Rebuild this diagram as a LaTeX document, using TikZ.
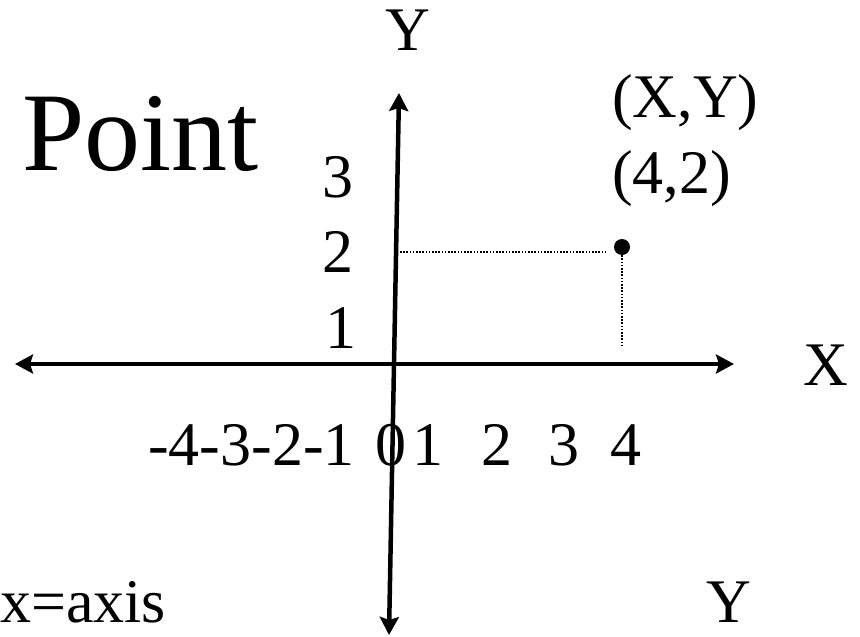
\documentclass[tikz,border=0pt]{standalone}
\usepackage{fontspec}
\setmainfont{Liberation Serif}
\usetikzlibrary{arrows.meta}

\begin{document}
\begin{tikzpicture}[x=1pt, y=-1pt,
    lbl/.style={font=\fontsize{62}{62}\selectfont, inner sep=0pt},
    axisline/.style={{Stealth[length=18pt,width=19pt,inset=3pt]}-{Stealth[length=18pt,width=19pt,inset=3pt]},
                     line width=4.5pt},
    guide/.style={line width=1.3pt, dash pattern=on 1.6pt off 1.6pt}
  ]
    \useasboundingbox (0,0) rectangle (860,637);
    % axes
    \coordinate (xleft) at (15,364);
    \coordinate (xright) at (734,364);
    \coordinate (ytop) at (399,93);
    \coordinate (ybot) at (389,635);
    \draw[axisline] (xleft) -- (xright);
    \draw[axisline] (ytop) -- (ybot);
    \node[lbl, anchor=base] (xlab) at (826,385) {X};
    \node[lbl, anchor=base] (ylab) at (408,50) {Y};
    % title
    \node[inner sep=0pt, anchor=base west, font=\fontsize{112}{112}\selectfont] (title) at (22,170) {Point};
    % y ticks
    \node[lbl, anchor=base] (y3) at (338,197) {3};
    \node[lbl, anchor=base] (y2) at (338,272) {2};
    \node[lbl, anchor=base] (y1) at (341,348) {1};
    % x ticks
    \node[lbl, anchor=base east] (xneg) at (355,465) {-4-3-2-1};
    \node[lbl, anchor=base] (x0) at (391,465) {0};
    \node[lbl, anchor=base] (x1) at (428,465) {1};
    \node[lbl, anchor=base] (x2) at (497,465) {2};
    \node[lbl, anchor=base] (x3) at (564,465) {3};
    \node[lbl, anchor=base] (x4) at (626,465) {4};
    % the point
    \node[circle, fill, inner sep=0pt, minimum size=16pt] (pt) at (622,247) {};
    \coordinate (onaxis) at (400,252);
    \coordinate (nearpt) at (607,252);
    \coordinate (foot) at (622,347);
    \draw[guide] (onaxis) -- (nearpt);
    \draw[guide] (pt.south) -- (foot);
    \node[lbl, anchor=base west] (gen) at (612,117) {(X,Y)};
    \node[lbl, anchor=base west] (spec) at (612,193) {(4,2)};
    % bottom notes
    \node[lbl, anchor=base west] (note) at (0,622) {x=axis};
    \node[lbl, anchor=base] (ynote) at (729,622) {Y};
\end{tikzpicture}
\end{document}
